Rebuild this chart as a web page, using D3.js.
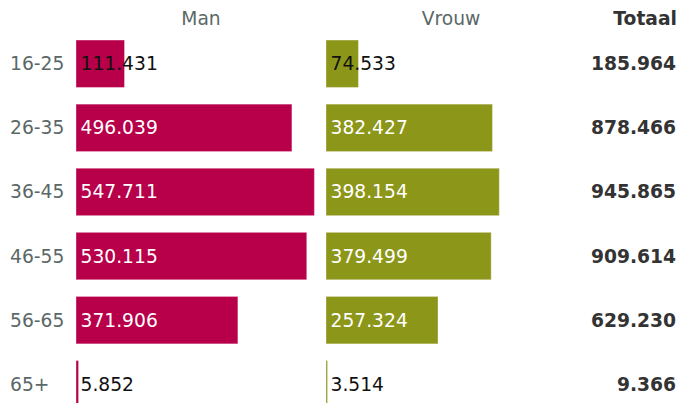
<!DOCTYPE html>
<html>
<head>
<meta charset="utf-8">
<script src="https://cdn.jsdelivr.net/npm/d3@7"></script>
<style>
  body { margin: 0; background: #fff; }
  svg text { font-family: "DejaVu Sans", sans-serif; font-size: 18.7px; }
</style>
</head>
<body>
<div id="chart"></div>
<script>
var categories = ["16-25", "26-35", "36-45", "46-55", "56-65", "65+"];
var man = [111431, 496039, 547711, 530115, 371906, 5852];
var vrouw = [74533, 382427, 398154, 379499, 257324, 3514];
var totaal = [185964, 878466, 945865, 909614, 629230, 9366];
var headers = ["Man", "Vrouw", "Totaal"];

var width = 680, height = 403;
var fmt = function(v) { return d3.format(",")(v).replace(/,/g, "."); };

var svg = d3.select("#chart").append("svg")
  .attr("width", width).attr("height", height);

var y = d3.scaleBand().domain(categories)
  .range([31.7, 416.3])
  .paddingInner(0.26).paddingOuter(0.13);

var x = d3.scaleLinear()
  .domain([0, d3.max(man.concat(vrouw))])
  .range([0, 238.4]);

var columns = [
  {name: headers[0], x0: 76, values: man, color: "#b8004a"},
  {name: headers[1], x0: 326, values: vrouw, color: "#8c9619"}
];

// row labels
svg.selectAll(".cat")
  .data(categories)
  .enter().append("text")
  .attr("class", "cat")
  .attr("x", 10)
  .attr("y", function(d) { return y(d) + y.bandwidth()/2; })
  .attr("dy", "0.35em")
  .attr("fill", "#5b6867")
  .text(function(d) { return d; });

columns.forEach(function(col) {
  svg.append("text")
    .attr("x", col.x0 + 125)
    .attr("y", 25)
    .attr("text-anchor", "middle")
    .attr("fill", "#5b6867")
    .text(col.name);

  var g = svg.append("g").attr("transform", "translate(" + col.x0 + ",0)");

  var rows = g.selectAll(".row")
    .data(col.values.map(function(v, i) { return {cat: categories[i], v: v}; }))
    .enter().append("g").attr("class", "row");

  rows.append("rect")
    .attr("x", 0)
    .attr("y", function(d) { return y(d.cat); })
    .attr("width", function(d) { return x(d.v); })
    .attr("height", y.bandwidth())
    .attr("fill", col.color)
    .attr("stroke", "#fff")
    .attr("stroke-opacity", 0.35)
    .attr("stroke-width", 1);

  rows.append("text")
    .attr("x", 4.5)
    .attr("y", function(d) { return y(d.cat) + y.bandwidth()/2; })
    .attr("dy", "0.35em")
    .text(function(d) { return fmt(d.v); })
    .attr("fill", function(d) {
      var w = this.getComputedTextLength();
      return x(d.v) > w + 10 ? "#fff" : "#111";
    });
});

svg.append("text")
  .attr("x", 677)
  .attr("y", 25)
  .attr("text-anchor", "end")
  .attr("font-weight", "bold")
  .attr("fill", "#333")
  .text(headers[2]);

svg.selectAll(".tot")
  .data(totaal)
  .enter().append("text")
  .attr("class", "tot")
  .attr("x", 676)
  .attr("y", function(d, i) { return y(categories[i]) + y.bandwidth()/2; })
  .attr("dy", "0.35em")
  .attr("text-anchor", "end")
  .attr("font-weight", "bold")
  .attr("fill", "#333")
  .text(function(d) { return fmt(d); });
</script>
</body>
</html>
